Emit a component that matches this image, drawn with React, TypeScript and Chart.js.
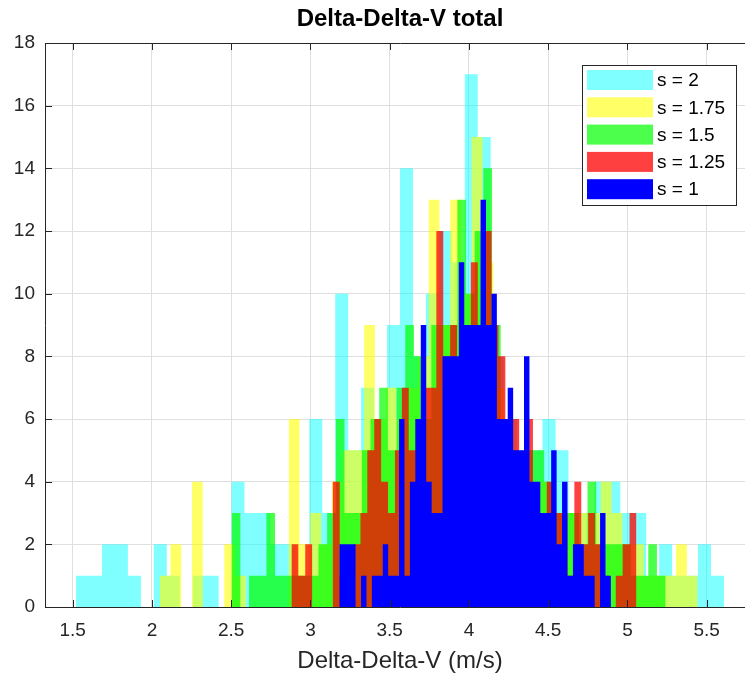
import React, { useEffect, useRef } from "react";
import { Chart, registerables } from "chart.js";

Chart.register(...registerables);

const FONT = "'Liberation Sans', Arial, Helvetica, sans-serif";

const xTicks = [1.5, 2, 2.5, 3, 3.5, 4, 4.5, 5, 5.5];
const yTicks = [0, 2, 4, 6, 8, 10, 12, 14, 16, 18];

const seriesLabels = ["s = 2", "s = 1.75", "s = 1.5", "s = 1.25", "s = 1"];
const seriesColors = [
  "rgba(0,255,255,0.5)",
  "rgba(255,255,0,0.6)",
  "rgba(0,255,0,0.7)",
  "rgba(255,0,0,0.75)",
  "rgba(0,0,255,1)",
];

// first bin edge and bin width of every histogram (50 bins each)
const binStarts = [1.521, 2.049, 2.503, 2.88, 3.182];
const binWidths = [0.08176, 0.06788, 0.05476, 0.04354, 0.03428];

const countsS2 = [1, 1, 2, 2, 1, 0, 2, 1, 0, 1, 1, 0, 4, 3, 3, 2, 2, 1, 6, 3, 10, 5, 7, 6, 9, 14, 8, 10, 12, 11, 17, 15, 8, 6, 5, 5, 6, 5, 3, 3, 4, 4, 3, 3, 1, 2, 1, 1, 2, 1];
const countsS175 = [1, 2, 0, 4, 0, 0, 2, 1, 0, 0, 0, 0, 6, 2, 3, 2, 4, 5, 5, 9, 6, 7, 6, 7, 8, 13, 9, 13, 10, 15, 11, 7, 5, 4, 4, 4, 3, 3, 3, 3, 3, 4, 3, 2, 2, 1, 1, 1, 2, 1];
const countsS15 = [3, 0, 1, 1, 3, 1, 1, 1, 1, 1, 2, 3, 6, 3, 3, 5, 6, 7, 5, 7, 9, 8, 6, 9, 9, 9, 13, 10, 12, 14, 9, 6, 5, 4, 5, 5, 4, 3, 3, 3, 2, 4, 2, 2, 2, 2, 1, 1, 2, 1];
const countsS125 = [2, 1, 2, 0, 0, 0, 4, 1, 1, 2, 3, 5, 6, 4, 3, 5, 7, 5, 6, 7, 7, 12, 8, 9, 7, 8, 11, 8, 12, 9, 8, 5, 6, 4, 6, 3, 3, 4, 3, 3, 1, 4, 2, 3, 2, 1, 0, 1, 2, 3];
const countsS1 = [2, 2, 2, 0, 1, 0, 1, 1, 2, 1, 1, 6, 1, 4, 6, 9, 4, 3, 3, 8, 8, 8, 11, 9, 9, 9, 13, 9, 10, 6, 6, 7, 5, 5, 8, 4, 4, 3, 3, 5, 2, 4, 1, 2, 2, 1, 1, 0, 3, 1];

const allCounts = [countsS2, countsS175, countsS15, countsS125, countsS1];

const X_MIN = 1.325;
const X_MAX = 5.805;

function histPoints(start: number, width: number, counts: number[]) {
  const pts: { x: number; y: number }[] = [{ x: start, y: 0 }];
  counts.forEach((c, i) => pts.push({ x: start + i * width, y: c }));
  pts.push({ x: start + counts.length * width, y: 0 });
  return pts;
}

const AXIS_COLOR = "#262626";

const boxPlugin = {
  id: "matlabBox",
  afterDatasetsDraw(chart: any) {
    const { ctx, chartArea } = chart;
    const xs = chart.scales.x;
    const ys = chart.scales.y;
    const L = chartArea.left, R = chartArea.right, T = chartArea.top, B = chartArea.bottom;
    ctx.save();
    ctx.strokeStyle = AXIS_COLOR;
    ctx.lineWidth = 1;
    ctx.beginPath();
    ctx.rect(Math.round(L) + 0.5, Math.round(T) + 0.5, Math.round(R - L), Math.round(B - T));
    ctx.stroke();
    const tl = 7;
    ctx.beginPath();
    xTicks.forEach((v) => {
      const px = Math.round(xs.getPixelForValue(v)) + 0.5;
      ctx.moveTo(px, B);
      ctx.lineTo(px, B - tl);
      ctx.moveTo(px, T);
      ctx.lineTo(px, T + tl);
    });
    yTicks.forEach((v) => {
      const py = Math.round(ys.getPixelForValue(v)) + 0.5;
      ctx.moveTo(L, py);
      ctx.lineTo(L + tl, py);
      ctx.moveTo(R, py);
      ctx.lineTo(R - tl, py);
    });
    ctx.stroke();
    ctx.restore();
  },
};

const legendPlugin = {
  id: "insideLegend",
  afterDraw(chart: any) {
    const { ctx, chartArea } = chart;
    const boxW = 154;
    const boxH = 140;
    const left = chartArea.right - 173;
    const top = chartArea.top + 22;
    ctx.save();
    ctx.fillStyle = "#ffffff";
    ctx.fillRect(left, top, boxW, boxH);
    ctx.strokeStyle = AXIS_COLOR;
    ctx.lineWidth = 1;
    ctx.strokeRect(left + 0.5, top + 0.5, boxW, boxH);
    ctx.font = `19px ${FONT}`;
    ctx.textBaseline = "middle";
    ctx.textAlign = "left";
    const rowH = 27.3;
    chart.data.datasets.forEach((ds: any, i: number) => {
      const cy = top + 15 + i * rowH;
      ctx.fillStyle = ds.backgroundColor;
      ctx.fillRect(left + 5, cy - 10, 66, 20);
      ctx.fillStyle = "#000000";
      ctx.fillText(ds.label, left + 75, cy + 1);
    });
    ctx.restore();
  },
};

export default function App() {
  const canvasRef = useRef<HTMLCanvasElement | null>(null);

  useEffect(() => {
    document.body.style.margin = "0";
    document.body.style.overflow = "hidden";
    document.documentElement.style.overflow = "hidden";
    const canvas = canvasRef.current;
    if (!canvas) return;

    const datasets = allCounts.map((counts, i) => ({
      label: seriesLabels[i],
      data: histPoints(binStarts[i], binWidths[i], counts),
      stepped: true as const,
      fill: "origin",
      backgroundColor: seriesColors[i],
      borderWidth: 0,
      borderColor: "rgba(0,0,0,0)",
      pointRadius: 0,
      tension: 0,
      order: 5 - i,
    }));

    const chart = new Chart(canvas, {
      type: "line",
      data: { datasets },
      options: {
        animation: false,
        responsive: false,
        events: [],
        layout: { padding: { left: 0, right: 0, top: 0, bottom: 0 } },
        plugins: {
          legend: { display: false },
          tooltip: { enabled: false },
          title: {
            display: true,
            text: "Delta-Delta-V total",
            color: "#000000",
            fullSize: false,
            font: { family: FONT, size: 24, weight: "bold", lineHeight: 1.2 },
            padding: { top: 5, bottom: 9.2 },
          },
        },
        scales: {
          x: {
            type: "linear",
            min: X_MIN,
            max: X_MAX,
            afterBuildTicks: (s: any) => {
              s.ticks = xTicks.map((v) => ({ value: v }));
            },
            afterFit: (s: any) => {
              s.height = 66;
            },
            ticks: {
              callback: (v: any) => String(v),
              font: { family: FONT, size: 19 },
              color: AXIS_COLOR,
              padding: 12,
              autoSkip: false,
              maxRotation: 0,
            },
            grid: { color: "#dfdfdf", drawTicks: false },
            border: { display: false },
            title: {
              display: true,
              text: "Delta-Delta-V (m/s)",
              color: AXIS_COLOR,
              font: { family: FONT, size: 24, lineHeight: 1 },
              padding: 0,
            },
          },
          y: {
            type: "linear",
            min: 0,
            max: 18,
            afterBuildTicks: (s: any) => {
              s.ticks = yTicks.map((v) => ({ value: v }));
            },
            afterFit: (s: any) => {
              s.width = 45;
            },
            ticks: {
              callback: (v: any) => String(v),
              font: { family: FONT, size: 19 },
              color: AXIS_COLOR,
              padding: 10,
              autoSkip: false,
            },
            grid: { color: "#dfdfdf", drawTicks: false },
            border: { display: false },
          },
        },
      },
      plugins: [boxPlugin, legendPlugin],
    } as any);

    return () => chart.destroy();
  }, []);

  return (
    <div style={{ width: 745, height: 673, overflow: "hidden" }}>
      <canvas ref={canvasRef} width={755} height={673} style={{ display: "block" }} />
    </div>
  );
}
